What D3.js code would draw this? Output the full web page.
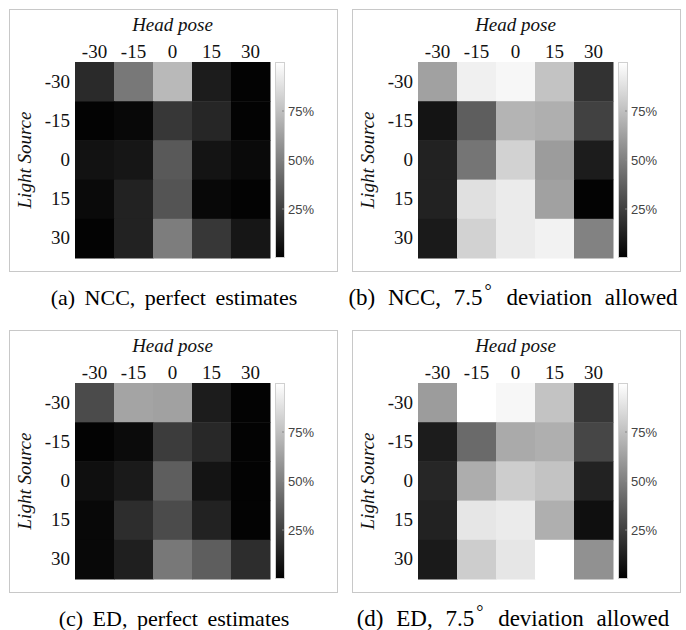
<!DOCTYPE html>
<html>
<head>
<meta charset="utf-8">
<script src="https://cdn.jsdelivr.net/npm/d3@7"></script>
<style>
  body { margin: 0; background: #fff; }
  svg { display: block; }
  .serif { font-family: "Liberation Serif", "Times New Roman", Times, serif; }
  .sans { font-family: "Liberation Sans", Arial, Helvetica, sans-serif; }
</style>
</head>
<body>
<svg id="vis" width="686" height="630"></svg>
<script>
// head pose (columns) and light source (rows), degrees
const headPose = ["-30", "-15", "0", "15", "30"];
const lightSource = ["-30", "-15", "0", "15", "30"];
const barTicks = [25, 50, 75];

// recognition rate in %, one row per light source
const nccPerfect = [
    [16.5, 47, 72.5, 11, 1],
    [1, 3, 21.5, 15, 1],
    [7, 8.5, 35, 8, 4],
    [4, 13.5, 33, 3, 1],
    [1, 13.5, 49, 21.5, 8.5]
];
const nccDeviation = [
    [63, 94, 97, 76.5, 19.5],
    [8, 37, 70.5, 68.5, 25.5],
    [13.5, 46, 82.5, 61, 11],
    [13.5, 88, 92, 63, 1],
    [10, 82.5, 92, 95, 51]
];
const edPerfect = [
    [29.5, 64.5, 63, 11, 1],
    [1, 4.5, 23.5, 15.5, 1],
    [6, 10, 37, 8, 1],
    [3, 17.5, 29.5, 13.5, 1],
    [3, 12, 47, 37, 17.5]
];
const edDeviation = [
    [61, 100, 97, 76.5, 21.5],
    [11, 41.5, 66.5, 68.5, 27.5],
    [15, 68, 80.5, 76.5, 13.5],
    [13.5, 90, 92, 68.5, 6],
    [10, 80.5, 90, 100, 57]
];

const panels = [
    {x: 0, y: 0, data: nccPerfect, label: "(a) NCC, perfect estimates"},
    {x: 343, y: 0, data: nccDeviation, label: "(b) NCC, ", deg: true},
    {x: 0, y: 321, data: edPerfect, label: "(c) ED, perfect estimates"},
    {x: 343, y: 321, data: edDeviation, label: "(d) ED, ", deg: true}
];

const svg = d3.select("svg#vis");

const gray = d3.scaleLinear().domain([0, 100]).range(["#000", "#fff"]).clamp(true);

const defs = svg.append("defs");
const grad = defs.append("linearGradient")
    .attr("id", "bar")
    .attr("x1", 0).attr("y1", 1).attr("x2", 0).attr("y2", 0);
grad.append("stop").attr("offset", "0%").attr("stop-color", "#000");
grad.append("stop").attr("offset", "100%").attr("stop-color", "#fff");

const hm = {left: 75, top: 62, width: 195, height: 196};

panels.forEach(p => {
    const g = svg.append("g").attr("transform", `translate(${p.x},${p.y})`);

    // frame
    g.append("rect")
        .attr("x", 9.5).attr("y", 9.5)
        .attr("width", 328).attr("height", 262)
        .attr("fill", "none")
        .attr("stroke", "#c8c8c8");

    const x = d3.scaleBand().domain(headPose).range([hm.left, hm.left + hm.width]);
    const y = d3.scaleBand().domain(lightSource).range([hm.top, hm.top + hm.height]);

    const cells = [];
    p.data.forEach((row, i) => row.forEach((v, j) => {
        cells.push({row: lightSource[i], col: headPose[j], v});
    }));

    g.selectAll("rect.cell")
        .data(cells)
        .enter()
        .append("rect")
        .attr("class", "cell")
        .attr("x", d => x(d.col))
        .attr("y", d => y(d.row))
        .attr("width", x.bandwidth() + 0.5)
        .attr("height", y.bandwidth() + 0.5)
        .attr("fill", d => gray(d.v));

    // column labels
    const top = g.append("g")
        .attr("transform", `translate(0,${hm.top - 4})`)
        .call(d3.axisTop(x).tickSize(0).tickPadding(0));
    top.attr("font-family", null).attr("font-size", null);
    top.select(".domain").remove();
    top.selectAll("text")
        .attr("class", "serif")
        .style("font-size", "19px")
        .attr("fill", "#111");

    // row labels
    const left = g.append("g")
        .attr("transform", `translate(${hm.left - 5},0)`)
        .call(d3.axisLeft(y).tickSize(0).tickPadding(0));
    left.attr("font-family", null).attr("font-size", null);
    left.select(".domain").remove();
    left.selectAll("text")
        .attr("class", "serif")
        .style("font-size", "19px")
        .attr("fill", "#111");

    g.append("text")
        .attr("class", "serif")
        .attr("x", hm.left + hm.width / 2)
        .attr("y", 31)
        .attr("text-anchor", "middle")
        .style("font-style", "italic")
        .style("font-size", "19px")
        .attr("fill", "#111")
        .text("Head pose");

    g.append("text")
        .attr("class", "serif")
        .attr("transform", `translate(31,${hm.top + hm.height / 2}) rotate(-90)`)
        .attr("text-anchor", "middle")
        .style("font-style", "italic")
        .style("font-size", "19px")
        .attr("fill", "#111")
        .text("Light Source");

    // colorbar
    const cb = {x: 275, w: 10};
    const c = d3.scaleLinear().domain([0, 100]).range([hm.top + hm.height, hm.top]);
    g.append("rect")
        .attr("x", cb.x + 0.5).attr("y", hm.top + 0.5)
        .attr("width", cb.w - 1).attr("height", hm.height - 1)
        .attr("fill", "url(#bar)")
        .attr("stroke", "#d0d0d0");
    const axis = g.append("g")
        .attr("transform", `translate(${cb.x + cb.w},0)`)
        .call(d3.axisRight(c).tickValues(barTicks).tickSize(0).tickPadding(3)
            .tickFormat(d => d + "%"));
    axis.attr("font-family", null).attr("font-size", null);
    axis.select(".domain").remove();
    axis.selectAll("text")
        .attr("class", "sans")
        .style("font-size", "13px")
        .attr("fill", "#444");
    g.selectAll("line.cbtick")
        .data(barTicks)
        .enter()
        .append("line")
        .attr("class", "cbtick")
        .attr("x1", cb.x + cb.w - 3).attr("x2", cb.x + cb.w - 1)
        .attr("y1", d => c(d)).attr("y2", d => c(d))
        .attr("stroke", "#888");

    // caption
    const cap = g.append("text")
        .attr("class", "serif")
        .attr("x", p.deg ? 170 : 174)
        .attr("y", 305)
        .attr("text-anchor", "middle")
        .style("font-size", p.deg ? "23px" : "22px")
        .style("word-spacing", p.deg ? "7px" : "4px")
        .attr("fill", "#000")
        .text(p.label);
    if (p.deg) {
        cap.append("tspan").text("7.5");
        cap.append("tspan").attr("dy", -8).attr("dx", 2).style("font-size", "18px").text("\u00b0");
        cap.append("tspan").attr("dy", 8).attr("dx", 2).text(" deviation allowed");
    }
});
</script>
</body>
</html>
